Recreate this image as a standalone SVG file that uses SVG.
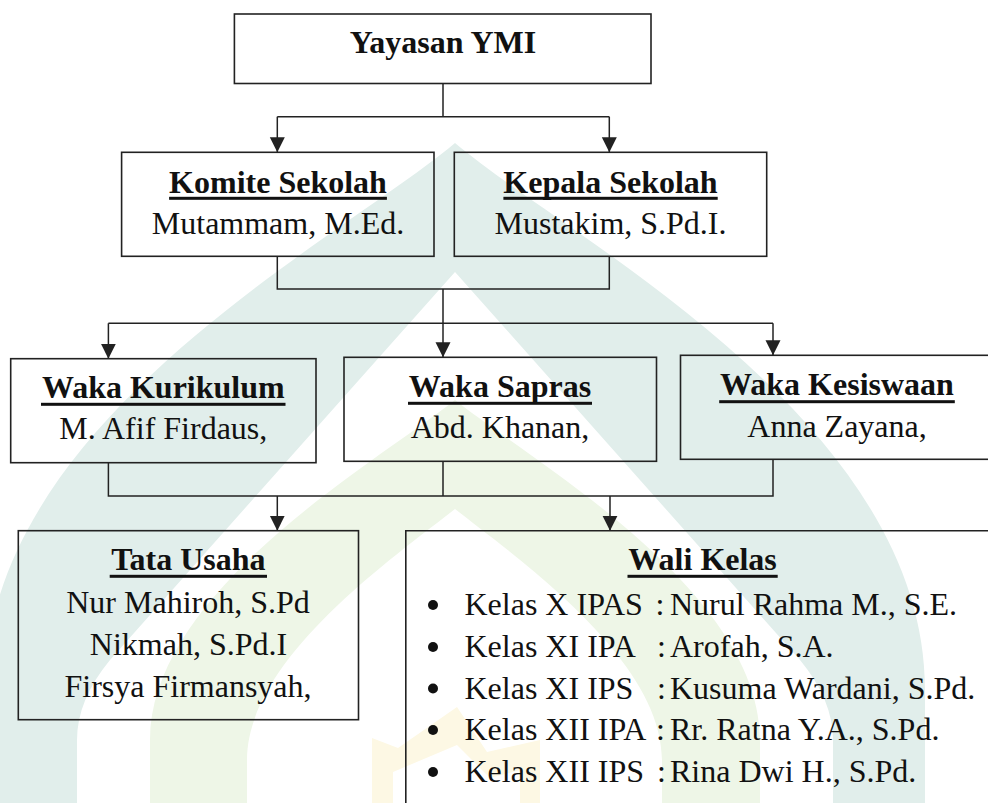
<svg xmlns="http://www.w3.org/2000/svg" width="988" height="803" viewBox="0 0 988 803">
<defs>
<style>
.box{fill:none;stroke:#222;stroke-width:1.6}
.ln{fill:none;stroke:#222;stroke-width:1.5}
text{font-family:'Liberation Serif',Tinos,'Times New Roman',Times,serif;font-size:32px;fill:#111}
.b{font-weight:bold;text-anchor:middle}
.c{text-anchor:middle}
.ul{fill:#111}
</style>
<marker id="ah" markerUnits="userSpaceOnUse" markerWidth="16" markerHeight="16" refX="15" refY="7.5" orient="auto">
<path d="M0,0 L15,7.5 L0,15 Z" fill="#222"/>
</marker>
</defs>
<rect width="988" height="803" fill="#fff"/>
<g id="watermark">
<path fill="#e1eeeb" fill-rule="evenodd" d="M-15,803 L-15,690 C-15,420 340,240 455,143 C570,240 925,420 925,690 L925,803 Z M77,803 L77,740 Q77,700 110,660 L455,272 L800,660 Q833,700 833,740 L833,803 Z"/>
<path fill="#eef6e7" fill-rule="evenodd" d="M150,803 L150,740 C150,590 380,460 455,400 C530,460 760,590 760,740 L760,803 Z M247,803 L247,760 C247,660 390,560 455,509 C520,560 662,660 662,760 L662,803 Z"/>
<path fill="#fdf8e4" fill-rule="evenodd" d="M372,803 L372,738 L398,748 L457,707 L487,752 L540,740 L540,803 Z M393,803 L393,772 L457,745 L490,778 L520,770 L520,803 Z"/>
</g>
<g id="connectors">
<path class="ln" d="M443,83.5 V116.7 M277.3,116.7 H609.3"/>
<line class="ln" x1="277.3" y1="116.7" x2="277.3" y2="152.3" marker-end="url(#ah)"/>
<line class="ln" x1="609.3" y1="116.7" x2="609.3" y2="152.3" marker-end="url(#ah)"/>
<path class="ln" d="M277.3,256.3 V289 H609.3 V256.3 M443,289 V323.3 M108.4,323.3 H773"/>
<line class="ln" x1="108.4" y1="323.3" x2="108.4" y2="358.7" marker-end="url(#ah)"/>
<line class="ln" x1="443" y1="323.3" x2="443" y2="357.3" marker-end="url(#ah)"/>
<line class="ln" x1="773" y1="323.3" x2="773" y2="355.3" marker-end="url(#ah)"/>
<path class="ln" d="M108.4,462.7 V496 H773 V459.3 M443,461.3 V496"/>
<line class="ln" x1="277.3" y1="496" x2="277.3" y2="530.7" marker-end="url(#ah)"/>
<line class="ln" x1="610" y1="496" x2="610" y2="530.7" marker-end="url(#ah)"/>
</g>
<g id="yayasan">
<rect class="box" x="234.4" y="14" width="416.6" height="69.5"/>
<text class="b" x="443" y="53">Yayasan YMI</text>
</g>
<g id="komite">
<rect class="box" x="121.6" y="152.3" width="312.4" height="104"/>
<text class="b" x="278" y="192.5">Komite Sekolah</text>
<rect class="ul" x="169.1" y="196.8" width="217.8" height="3"/>
<text class="c" x="278" y="234">Mutammam, M.Ed.</text>
</g>
<g id="kepala">
<rect class="box" x="454.3" y="152.3" width="312.4" height="104"/>
<text class="b" x="610.5" y="192.5">Kepala Sekolah</text>
<rect class="ul" x="503.4" y="196.8" width="214.3" height="3"/>
<text class="c" x="610.5" y="234">Mustakim, S.Pd.I.</text>
</g>
<g id="kurikulum">
<rect class="box" x="10.7" y="358.7" width="305.3" height="104"/>
<text class="b" x="163.3" y="397.6">Waka Kurikulum</text>
<rect class="ul" x="41" y="402.8" width="244.5" height="3"/>
<text class="c" x="163.3" y="439">M. Afif Firdaus,</text>
</g>
<g id="sapras">
<rect class="box" x="344" y="357.3" width="312.5" height="104"/>
<text class="b" x="500" y="396.5">Waka Sapras</text>
<rect class="ul" x="408" y="401.8" width="184" height="3"/>
<text class="c" x="500" y="438">Abd. Khanan,</text>
</g>
<g id="kesiswaan">
<rect class="box" x="680.5" y="355.3" width="320" height="104"/>
<text class="b" x="837" y="395">Waka Kesiswaan</text>
<rect class="ul" x="719.2" y="400.2" width="235.6" height="3"/>
<text class="c" x="837" y="436.5">Anna Zayana,</text>
</g>
<g id="tata-usaha">
<rect class="box" x="18.3" y="530.7" width="340.2" height="189"/>
<text class="b" x="188.4" y="570">Tata Usaha</text>
<rect class="ul" x="109.7" y="574.8" width="157.3" height="3"/>
<text class="c" x="188" y="612.5">Nur Mahiroh, S.Pd</text>
<text class="c" x="188.5" y="654.5">Nikmah, S.Pd.I</text>
<text class="c" x="188" y="696.5">Firsya Firmansyah,</text>
</g>
<g id="wali-kelas">
<path class="box" d="M1000,530.7 H405.8 V810"/>
<text class="b" x="702.6" y="570">Wali Kelas</text>
<rect class="ul" x="627.5" y="574.8" width="150.2" height="3"/>
<g fill="#111">
<circle cx="433" cy="605" r="5"/>
<circle cx="433" cy="647" r="5"/>
<circle cx="433" cy="688.5" r="5"/>
<circle cx="433" cy="730" r="5"/>
<circle cx="433" cy="772" r="5"/>
</g>
<text x="464.5" y="615">Kelas X IPAS</text>
<text x="655.5" y="615">:</text>
<text x="670" y="615">Nurul Rahma M., S.E.</text>
<text x="464.5" y="657">Kelas XI IPA</text>
<text x="657" y="657">:</text>
<text x="670" y="657">Arofah, S.A.</text>
<text x="464.5" y="698.5">Kelas XI IPS</text>
<text x="657" y="698.5">:</text>
<text x="670" y="698.5">Kusuma Wardani, S.Pd.</text>
<text x="464.5" y="740">Kelas XII IPA</text>
<text x="656" y="740">:</text>
<text x="670" y="740">Rr. Ratna Y.A., S.Pd.</text>
<text x="464.5" y="782">Kelas XII IPS</text>
<text x="657" y="782">:</text>
<text x="670" y="782">Rina Dwi H., S.Pd.</text>
</g>
</svg>
